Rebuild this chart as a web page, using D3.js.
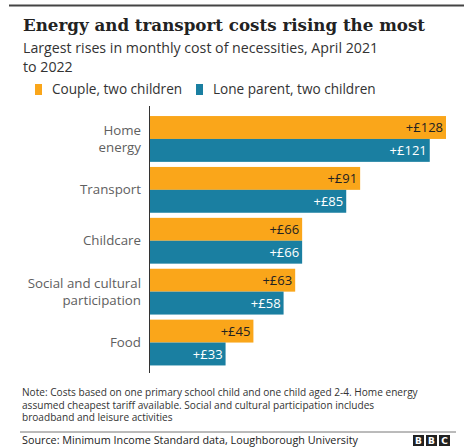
<!DOCTYPE html>
<html><head><meta charset="utf-8">
<script src="https://cdn.jsdelivr.net/npm/d3@7"></script>
<style>body{margin:0;background:#fff;} svg{display:block;}</style>
</head><body>
<script>
const categories = [["Home","energy"],["Transport"],["Childcare"],["Social and cultural","participation"],["Food"]];
const categoryKeys = ["Home energy","Transport","Childcare","Social and cultural participation","Food"];
const series = ["Couple, two children","Lone parent, two children"];
const couple = [128, 91, 66, 63, 45];
const lone = [121, 85, 66, 58, 33];
const colors = ["#FAA61A","#1A7FA1"];

const W=464,H=448;
const svg=d3.select("body").append("svg").attr("width",W).attr("height",H);
const sans="'Open Sans', 'Noto Sans', sans-serif";
svg.append("line").attr("x1",9).attr("x2",W).attr("y1",5.5).attr("y2",5.5).attr("stroke","#444").attr("stroke-width",2);
svg.append("text").attr("x",23).attr("y",31).text("Energy and transport costs rising the most")
  .attr("font-family","'DejaVu Serif', serif").attr("font-weight","bold").attr("font-size",16.7).attr("fill","#222");
svg.append("text").attr("x",23).attr("y",53).text("Largest rises in monthly cost of necessities, April 2021")
  .attr("font-family",sans).attr("font-size",14.2).attr("fill","#333");
svg.append("text").attr("x",23).attr("y",72).text("to 2022")
  .attr("font-family",sans).attr("font-size",14.2).attr("fill","#333");
// legend
const legX=[35,196];
series.forEach((s,i)=>{
  svg.append("rect").attr("x",legX[i]).attr("y",84).attr("width",7).attr("height",11).attr("fill",colors[i]);
  svg.append("text").attr("x",legX[i]+17).attr("y",94).text(s).attr("font-family",sans).attr("font-size",13.6).attr("fill","#333");
});

const x=d3.scaleLinear().domain([0,128]).range([149,446]);
const y=d3.scaleBand().domain(categoryKeys).range([113.5,368]).paddingInner(0.1).paddingOuter(0.05);
const g=svg.append("g");
categoryKeys.forEach((c,i)=>{
  const bw=y.bandwidth()/2;
  [couple[i],lone[i]].forEach((v,j)=>{
    const yy=y(c)+j*bw;
    g.append("rect").attr("x",x(0)).attr("y",yy).attr("width",x(v)-x(0)).attr("height",bw).attr("fill",colors[j]);
    g.append("text").attr("x",x(v)-3).attr("y",yy+bw/2+4.8).attr("text-anchor","end").text("+£"+v)
      .attr("font-family",sans).attr("font-size",13).attr("fill",j===0?"#222":"#fff");
  });
  const lines=categories[i];
  const cy=y(c)+y.bandwidth()/2;
  lines.forEach((t,k)=>{
    g.append("text").attr("x",141).attr("y",cy+4.6+(k-(lines.length-1)/2)*17.5).attr("text-anchor","end").text(t)
      .attr("font-family",sans).attr("font-size",13.3).attr("fill","#606060");
  });
});
svg.append("line").attr("x1",149.5).attr("x2",149.5).attr("y1",106).attr("y2",373).attr("stroke","#333").attr("stroke-width",1);

const notes=["Note: Costs based on one primary school child and one child aged 2-4. Home energy","assumed cheapest tariff available. Social and cultural participation includes","broadband and leisure activities"];
notes.forEach((t,k)=>svg.append("text").attr("x",22).attr("y",396+k*12.5).text(t).attr("font-family",sans).attr("font-size",10.1).attr("fill","#333"));
svg.append("line").attr("x1",20).attr("x2",456).attr("y1",432).attr("y2",432).attr("stroke","#777").attr("stroke-width",1);
svg.append("text").attr("x",22).attr("y",444).text("Source: Minimum Income Standard data, Loughborough University").attr("font-family",sans).attr("font-size",10.8).attr("fill","#222");
["B","B","C"].forEach((l,k)=>{
  svg.append("rect").attr("x",413+k*13).attr("y",435).attr("width",11).attr("height",11).attr("fill","#222");
  svg.append("text").attr("x",418.5+k*13).attr("y",444).attr("text-anchor","middle").text(l).attr("font-family","'DejaVu Sans', sans-serif").attr("font-weight","bold").attr("font-size",9).attr("fill","#fff");
});
</script>
</body></html>
